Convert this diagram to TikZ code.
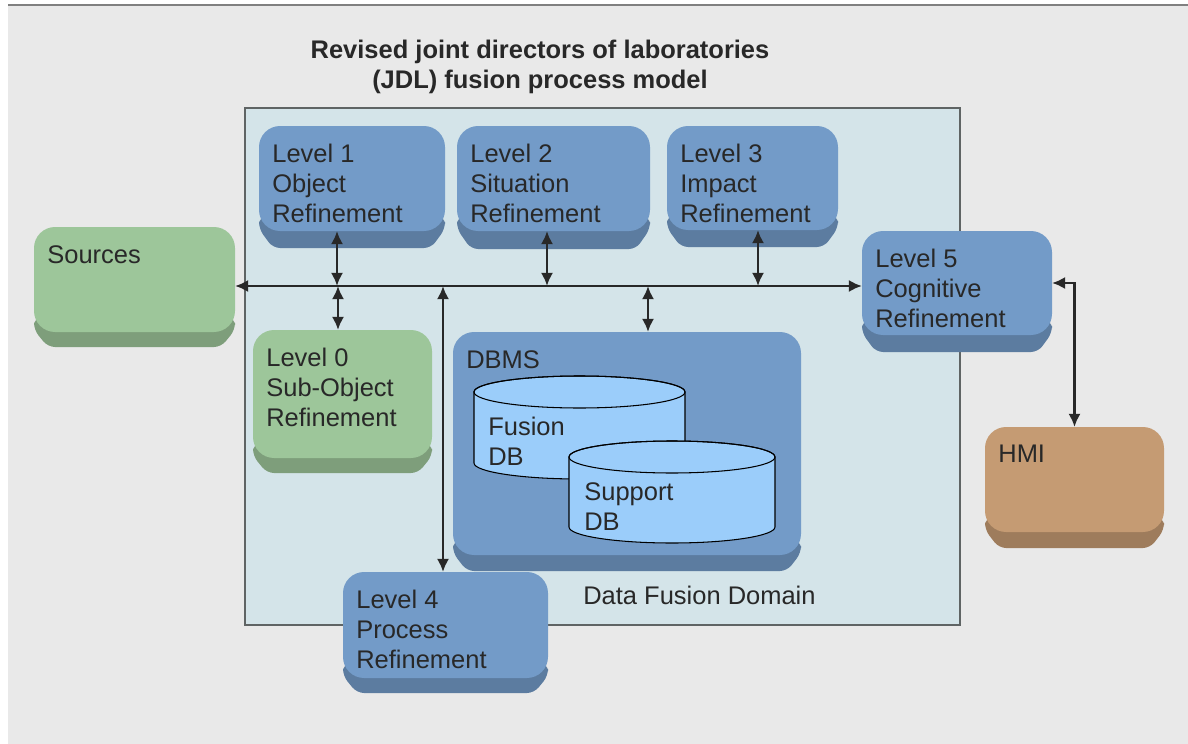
\documentclass[tikz,border=0pt]{standalone}
\usepackage{fontspec}
\setmainfont{Liberation Sans}
\usetikzlibrary{arrows.meta,calc,fit}

\definecolor{bgGray}{RGB}{233,233,233}
\definecolor{domainCol}{RGB}{212,228,233}
\definecolor{frameGray}{RGB}{95,100,100}
\definecolor{lvBlue}{RGB}{115,155,200}
\definecolor{lvGreen}{RGB}{157,198,154}
\definecolor{lvBrown}{RGB}{197,155,115}
\definecolor{dbCol}{RGB}{155,205,250}
\definecolor{inkGray}{RGB}{40,40,40}

\tikzset{
  levelface/.style={rounded corners=12, inner sep=0pt, outer sep=0pt},
  boxtext/.style={anchor=north west, inner sep=0pt, align=left, text=inkGray,
    font=\fontsize{14.5}{17}\selectfont},
  link/.style={draw=inkGray, line width=1.5pt,
    {Latex[length=7.5pt,width=7pt]}-{Latex[length=7.5pt,width=7pt]}},
}

% box with a darker bevel underneath: name, left, top, right, face bottom, bevel bottom, colour, text
\newcommand{\levelbox}[8]{%
  \fill[#7!80!black, rounded corners=4] (#2,#5-14) -- (#2,#5-2) -- (#2+14,#6) -- (#4-14,#6) -- (#4,#5-2) -- (#4,#5-14) -- cycle;
  \node[levelface, fill=#7, fit={(#2,#3) (#4,#5)}] (#1) {};
  \node[boxtext] (#1-txt) at ($(#1.north west)+(13,18)$) {#8};
}

% database drum: centre x, top y, bottom y, x radius
\newcommand{\dbdrum}[4]{%
  \filldraw[fill=dbCol, draw=black, line width=0.6pt] (#1-#4,#2) -- (#1-#4,#3)
    arc[start angle=180, end angle=0, x radius=#4, y radius=16] -- (#1+#4,#2)
    arc[start angle=0, end angle=-180, x radius=#4, y radius=16] -- cycle;
  \draw[black, line width=0.6pt] (#1,#2) ellipse [x radius=#4, y radius=16];
}

\begin{document}
\begin{tikzpicture}[x=0.02cm, y=-0.02cm]
\useasboundingbox (0,0) rectangle (1188,744);
\fill[white] (0,0) rectangle (1188,744);
\fill[bgGray] (8,6) rectangle (1188,744);
\draw[gray, line width=0.8pt] (8,5) -- (1188,5);

% title
\node[align=center, text=inkGray, font=\bfseries\fontsize{14.5}{17}\selectfont] (title) at (540,67)
  {Revised joint directors of laboratories\\(JDL) fusion process model};

% data fusion domain
\node[draw=frameGray, line width=0.9pt, fill=domainCol, inner sep=0pt, fit={(245,108) (960,625)}] (domain) {};
\node[boxtext, anchor=west] (domlabel) at (583,595) {Data Fusion Domain};

% levels
\levelbox{src}{34}{227}{235}{332}{347}{lvGreen}{Sources}
\levelbox{lv1}{259}{126}{445}{231}{248}{lvBlue}{Level 1\\Object\\Refinement}
\levelbox{lv2}{457}{126}{650}{231}{249}{lvBlue}{Level 2\\Situation\\Refinement}
\levelbox{lv3}{667}{126}{838}{230}{247}{lvBlue}{Level 3\\Impact\\Refinement}
\levelbox{lv5}{862}{231}{1052}{335}{352}{lvBlue}{Level 5\\Cognitive\\Refinement}
\levelbox{lv0}{253}{330}{432}{458}{473}{lvGreen}{Level 0\\Sub-Object\\Refinement}
\levelbox{lv4}{343}{572}{548}{678}{693}{lvBlue}{Level 4\\Process\\Refinement}
\levelbox{dbms}{453}{332}{801}{555}{571}{lvBlue}{DBMS}
\levelbox{hmi}{985}{427}{1164}{532}{548}{lvBrown}{HMI}

% databases
\dbdrum{579.5}{392}{463}{105.5}
\node[boxtext] (fusiondb) at (488,417) {Fusion\\DB};
\dbdrum{672}{457}{527}{103}
\node[boxtext] (supportdb) at (584,482) {Support\\DB};

% bus and links
\coordinate (bus) at (600,286);
\coordinate (j1) at (337,286);
\coordinate (j2) at (547,286);
\coordinate (j3) at (758,286);
\coordinate (j0) at (338,286);
\coordinate (j4) at (443,286);
\coordinate (jdb) at (648,286);
\draw[link] (src.east |- bus) -- (lv5.west |- bus);
\draw[link] (lv1.south -| j1) -- (j1);
\draw[link] (lv2.south -| j2) -- (j2);
\draw[link] (lv3.south -| j3) -- (j3);
\draw[link] (j0) -- (lv0.north -| j0);
\draw[link] (j4) -- (lv4.north -| j4);
\draw[link] (jdb) -- (dbms.north -| jdb);
\draw[link] (lv5.east) -| (hmi.north);
\end{tikzpicture}
\end{document}
